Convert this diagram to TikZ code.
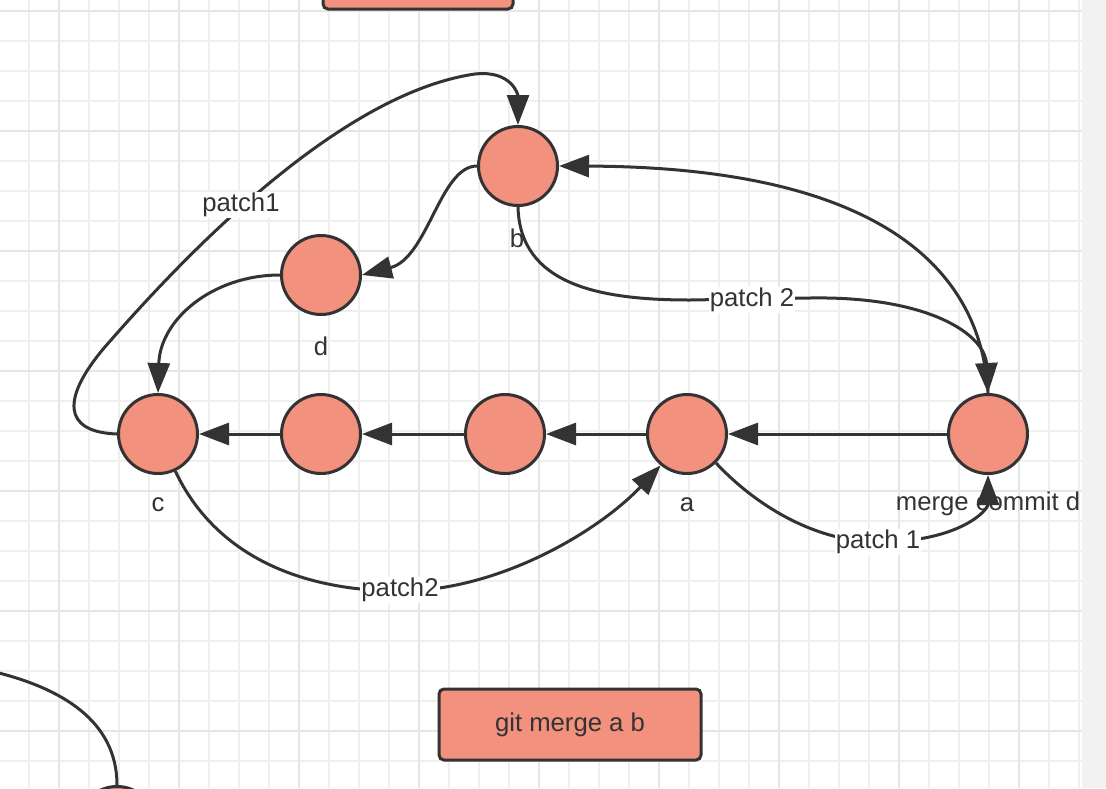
\documentclass[tikz,border=0pt]{standalone}
\usepackage{fontspec}
\setmainfont{Liberation Sans}
\usetikzlibrary{arrows.meta}
\definecolor{salmon}{HTML}{F2917E}
\definecolor{ink}{HTML}{333333}
\definecolor{gridminor}{HTML}{EFEFEF}
\definecolor{gridmajor}{HTML}{E6E6E6}
\definecolor{strip}{HTML}{F2F2F2}
\tikzset{
  commit/.style={circle,draw=ink,fill=salmon,line width=3pt,minimum size=79pt,inner sep=0pt},
  cmdbox/.style={rectangle,draw=ink,fill=salmon,line width=3pt,rounded corners=5pt,inner sep=0pt,text=ink,font=\fontsize{25.7pt}{30pt}\selectfont},
  lbl/.style={text=ink,font=\fontsize{25.7pt}{30pt}\selectfont,inner sep=1pt},
  elbl/.style={lbl,fill=white,inner sep=1pt},
  conn/.style={draw=ink,line width=3pt,-{Triangle[length=30pt,width=22pt]}},
  plain/.style={draw=ink,line width=3pt},
}
\begin{document}
\begin{tikzpicture}[x=1pt,y=-1pt]
\useasboundingbox (0,0) rectangle (1106,788);
\clip (0,0) rectangle (1106,788);
\fill[white] (0,0) rectangle (1106,788);
% grid
\foreach \gx in {29,59,...,1079} {\draw[gridminor,line width=2pt] (\gx,0) -- (\gx,788);}
\foreach \gy in {11,41,...,788} {\draw[gridminor,line width=2pt] (0,\gy) -- (1082,\gy);}
\foreach \gx in {59,179,...,1079} {\draw[gridmajor,line width=2.5pt] (\gx,0) -- (\gx,788);}
\foreach \gy in {11,131,...,788} {\draw[gridmajor,line width=2.5pt] (0,\gy) -- (1082,\gy);}
\fill[strip] (1082,0) rectangle (1106,788);

% boxes
\node[cmdbox,minimum width=190pt,minimum height=50pt] (top) at (418,-16) {};
\node[cmdbox,minimum width=262pt,minimum height=71pt] (cmd) at (570,724.5) {git merge a b};

% commits
\node[commit] (b) at (518,166) {};
\node[commit] (d) at (321,275) {};
\node[commit] (c) at (158,434) {};
\node[commit] (n2) at (321,434) {};
\node[commit] (n3) at (505,434) {};
\node[commit] (a) at (687,434) {};
\node[commit] (m) at (988,434) {};
\node[commit] (z) at (117,826) {};
\coordinate (zin) at (-5,672);

% straight chain
\draw[conn] (m) -- (a);
\draw[conn] (a) -- (n3);
\draw[conn] (n3) -- (n2);
\draw[conn] (n2) -- (c);

% curved connectors
\draw[conn] (b.west) .. controls (440,166) and (428,258) .. (d.east);
\draw[conn] (d.west) .. controls (212,275) and (160,320) .. (c.north);
\draw[conn] (c.west) .. controls (62,432) and (62,398) .. (104,348)
  .. controls (165,278) and (330,95) .. (475,74)
  .. controls (512,70) and (518,95) .. (b.north);
\draw[conn] (b.south) .. controls (520,285) and (600,300) .. (690,300)
  -- (810,298) .. controls (930,296) and (985,335) .. (m.north);
\draw[conn] (m.north) .. controls (980,250) and (850,167) .. (b.east);
\draw[conn] (c.-65) .. controls (215,555) and (300,591) .. (400,591)
  .. controls (500,591) and (600,530) .. (a.-130);
\draw[conn] (a.-45) .. controls (760,510) and (820,542) .. (878,542)
  .. controls (960,542) and (988,510) .. (m.south);
\draw[plain] (zin) .. controls (60,688) and (117,720) .. (z.north);

% commit labels
\node[lbl] (lb) at (517,238) {b};
\node[lbl] (ld) at (321,346) {d};
\node[lbl] (lc) at (158,505) {c};
\node[lbl] (la) at (687,505) {a};
\node[lbl] (lm) at (988,504) {merge commit d};

% edge labels
\node[elbl] (p1) at (241,205) {patch1};
\node[elbl] (p2) at (752,300) {patch 2};
\node[elbl] (p3) at (400,590) {patch2};
\node[elbl] (p4) at (878,542) {patch 1};
\end{tikzpicture}
\end{document}
